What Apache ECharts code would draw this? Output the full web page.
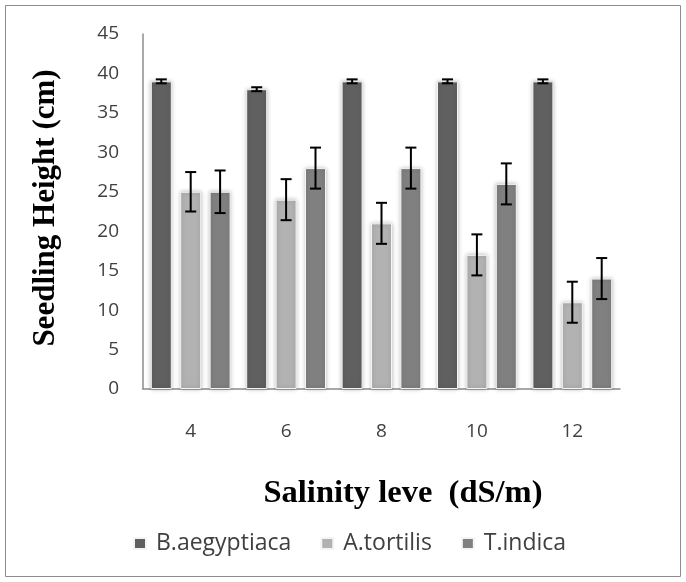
<!DOCTYPE html>
<html><head><meta charset="utf-8">
<script src="https://cdn.jsdelivr.net/npm/echarts@6/dist/echarts.min.js"></script>
<style>html,body{margin:0;padding:0;background:#fff}#c{width:686px;height:582px}</style>
</head><body><div id="c"></div>
<script>
const categories = ['4', '6', '8', '10', '12'];
const seriesNames = ['B.aegyptiaca', 'A.tortilis', 'T.indica'];
const bAegyptiaca = [39, 38, 39, 39, 39];
const aTortilis = [25, 24, 21, 17, 11];
const tIndica = [25, 28, 28, 26, 14];
const bAegyptiacaErr = [0.25, 0.25, 0.25, 0.25, 0.25];
const aTortilisErr = [2.5, 2.6, 2.6, 2.6, 2.6];
const tIndicaErr = [2.7, 2.6, 2.6, 2.6, 2.6];
const yTicks = [0, 5, 10, 15, 20, 25, 30, 35, 40, 45];

const values = [bAegyptiaca, aTortilis, tIndica];
const errs = [bAegyptiacaErr, aTortilisErr, tIndicaErr];
const colors = ['#606060', '#b2b2b2', '#808080'];
const BW = 21, GAP = 8.4;

const chart = echarts.init(document.getElementById('c'));
const series = [];
values.forEach((v, i) => {
  series.push({
    name: seriesNames[i], type: 'bar', data: v, barWidth: BW, barGap: '40%',
    itemStyle: { color: colors[i], borderColor: '#f4f4f4', borderWidth: 1,
      shadowBlur: 4, shadowColor: 'rgba(0,0,0,0.25)' }
  });
});
values.forEach((v, i) => {
  series.push({
    type: 'custom', silent: true, z: 10,
    data: v.map((val, k) => [k, val - errs[i][k], val + errs[i][k]]),
    renderItem: function (params, api) {
      const lo = api.coord([api.value(0), api.value(1)]);
      const hi = api.coord([api.value(0), api.value(2)]);
      const x = lo[0] + (i - 1) * (BW + GAP);
      const hw = 5.5;
      const st = { stroke: '#000', lineWidth: 2 };
      return { type: 'group', children: [
        { type: 'line', shape: { x1: x, y1: lo[1], x2: x, y2: hi[1] }, style: st },
        { type: 'line', shape: { x1: x - hw, y1: lo[1], x2: x + hw, y2: lo[1] }, style: st },
        { type: 'line', shape: { x1: x - hw, y1: hi[1], x2: x + hw, y2: hi[1] }, style: st }
      ]};
    }
  });
});

chart.setOption({
  animation: false,
  backgroundColor: '#fff',
  graphic: [{ type: 'rect', shape: { x: 5.5, y: 5.5, width: 675, height: 571 },
    style: { fill: 'none', stroke: '#8c8c8c', lineWidth: 1 }, silent: true }],
  grid: { left: 143, right: 66, top: 34, bottom: 193 },
  legend: {
    data: seriesNames, top: 527, left: 128, itemWidth: 12, itemHeight: 11, itemGap: 29,
    icon: 'rect',
    textStyle: { fontFamily: 'Open Sans', fontSize: 23, color: '#404040', padding: [0, 0, 0, 5] }
  },
  xAxis: {
    type: 'category', data: categories,
    axisLine: { lineStyle: { color: '#8c8c8c', width: 1.5 } },
    axisTick: { show: false },
    axisLabel: { fontFamily: 'Open Sans', fontSize: 19, color: '#404040', margin: 33 },
    name: 'Salinity leve  (dS/m)', nameLocation: 'middle', nameGap: 88,
    nameTextStyle: { fontFamily: 'Liberation Serif', fontWeight: 'bold', fontSize: 32.5, color: '#000',
      padding: [0, 0, 0, 43] }
  },
  yAxis: {
    type: 'value', min: yTicks[0], max: yTicks[yTicks.length - 1], interval: 5,
    axisLine: { show: true, lineStyle: { color: '#8c8c8c', width: 1.5 } },
    axisTick: { show: false },
    splitLine: { show: false },
    axisLabel: { fontFamily: 'Open Sans', fontSize: 19, color: '#404040', margin: 24 },
    name: 'Seedling Height (cm)', nameLocation: 'middle', nameGap: 82, nameRotate: 90,
    nameTextStyle: { fontFamily: 'Liberation Serif', fontWeight: 'bold', fontSize: 31, color: '#000',
      padding: [0, 0, 0, 7] }
  },
  series: series
});
</script></body></html>
